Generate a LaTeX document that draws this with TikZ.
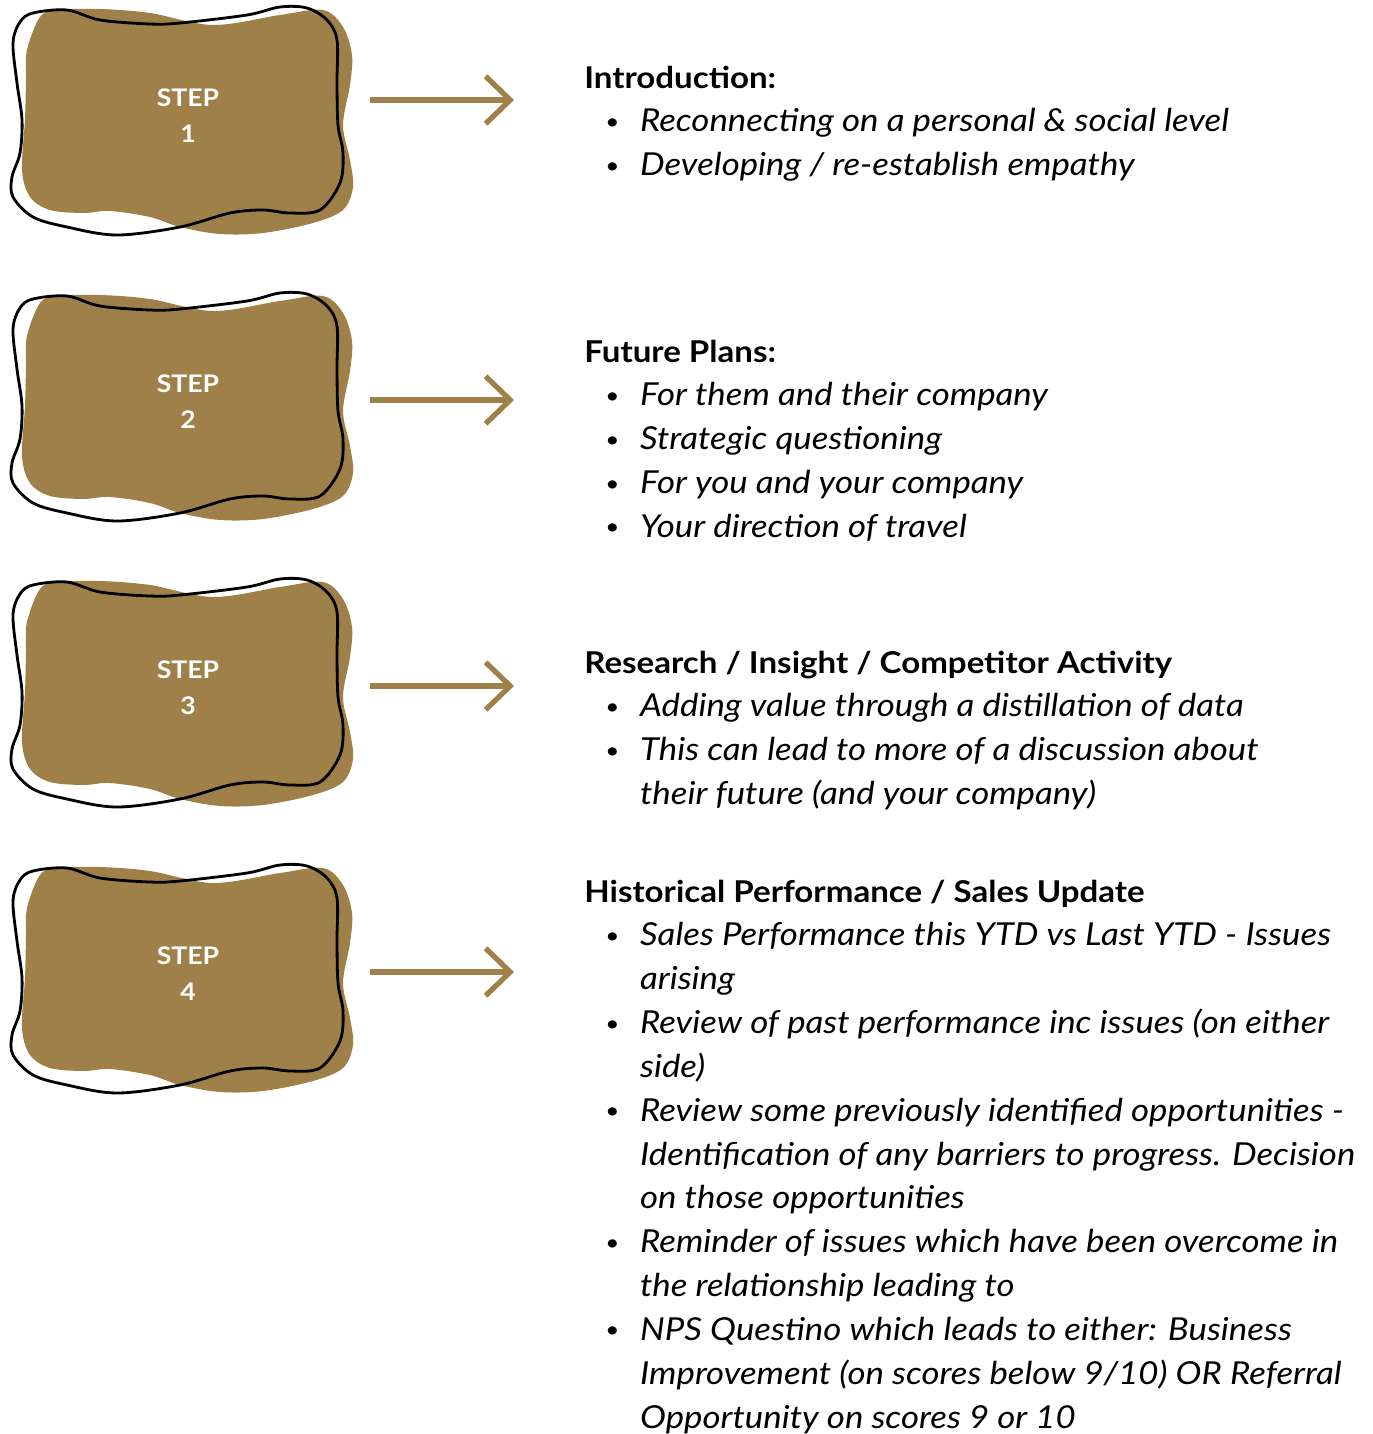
\documentclass[tikz,border=0pt]{standalone}
\usepackage{fontspec}
\usepackage{graphicx}
\setmainfont{Lato}[FakeStretch=1.1]
\usetikzlibrary{arrows.meta}
\definecolor{stepgold}{RGB}{160,128,73}
\newcommand\headfont{\fontsize{17.1}{25}\selectfont\upshape\bfseries}
\newcommand\itemfont{\fontsize{18}{24.95}\selectfont\itshape}
\newcommand\bul{\hspace*{12pt}\raisebox{0.15ex}{\scalebox{0.7}{\upshape\textbullet}}}

\tikzset{
  blobfill/.style={fill=stepgold},
  blobline/.style={draw=black,line width=1.6pt},
  steplabel/.style={text=white,align=center,font=\fontsize{13.8}{20.4}\selectfont\bfseries},
  goarrow/.style={draw=stepgold,line width=3pt,-{Straight Barb[length=14pt,width=27pt]}},
  textblock/.style={anchor=base west,inner sep=0pt,font=\itemfont}
}

\begin{document}
\begin{tikzpicture}[x=0.02cm,y=-0.02cm]
\useasboundingbox (0,0) rectangle (1373,1434);

% the four step blobs and their arrows
\foreach \n/\dy/\ay in {1/0/100,2/286/400,3/572/686,4/858/972}{
  \begin{scope}[shift={(0,\dy)}]
    \fill[blobfill] plot[smooth cycle,tension=0.55] coordinates {
      (27,50) (40,17) (57,10) (100,9) (150,13) (213,25) (280,15) (323,10)
      (343,27) (352,55) (350,85) (343,125) (350,160) (353,187) (343,210)
      (313,223) (263,233) (220,234) (180,227) (150,217) (110,211) (83,213)
      (50,210) (30,197) (22,170) (25,120) (26,80)};
    \draw[blobline] plot[smooth cycle,tension=0.55] coordinates {
      (13,43) (20,22) (33,13) (67,10) (100,20) (150,24) (180,23) (247,15)
      (280,7) (307,8) (327,20) (337,40) (337,83) (338,125) (343,153)
      (340,183) (320,210) (290,213) (263,210) (230,213) (180,227) (117,235)
      (67,227) (33,217) (13,197) (12,177) (20,153) (22,120) (17,83)};
    \node[steplabel] (step\n) at (188,116) {STEP\\\n};
  \end{scope}
  \coordinate (a\n) at (370,\ay);
  \coordinate (b\n) at (514,\ay);
  \draw[goarrow] (a\n) -- (b\n);
}

% text to the right
\node[textblock] (intro) at (584,88) {\begin{tabular}[t]{@{}p{31.75pt}@{}l@{}}
\multicolumn{2}{@{}l@{}}{\headfont Introduction:}\\
\bul & Reconnecting on a personal \& social level\\
\bul & Developing / re-establish empathy
\end{tabular}};

\node[textblock] (plans) at (584,362) {\begin{tabular}[t]{@{}p{31.75pt}@{}l@{}}
\multicolumn{2}{@{}l@{}}{\headfont Future Plans:}\\
\bul & For them and their company\\
\bul & Strategic questioning\\
\bul & For you and your company\\
\bul & Your direction of travel
\end{tabular}};

\node[textblock] (research) at (584,673) {\begin{tabular}[t]{@{}p{31.75pt}@{}l@{}}
\multicolumn{2}{@{}l@{}}{\headfont Research / Insight / Competitor Activity}\\
\bul & Adding value through a distillation of data\\
\bul & This can lead to more of a discussion about\\
 & their future (and your company)
\end{tabular}};

\node[textblock] (history) at (584,902) {\begin{tabular}[t]{@{}p{31.75pt}@{}l@{}}
\multicolumn{2}{@{}l@{}}{\headfont Historical Performance / Sales Update}\\
\bul & Sales Performance this YTD vs Last YTD - Issues\\
 & arising\\
\bul & Review of past performance inc issues (on either\\
 & side)\\
\bul & Review some previously identified opportunities -\\
 & Identification of any barriers to progress. Decision\\
 & on those opportunities\\
\bul & Reminder of issues which have been overcome in\\
 & the relationship leading to\\
\bul & NPS Questino which leads to either: Business\\
 & Improvement (on scores below 9/10) OR Referral\\
 & Opportunity on scores 9 or 10
\end{tabular}};
\end{tikzpicture}
\end{document}
